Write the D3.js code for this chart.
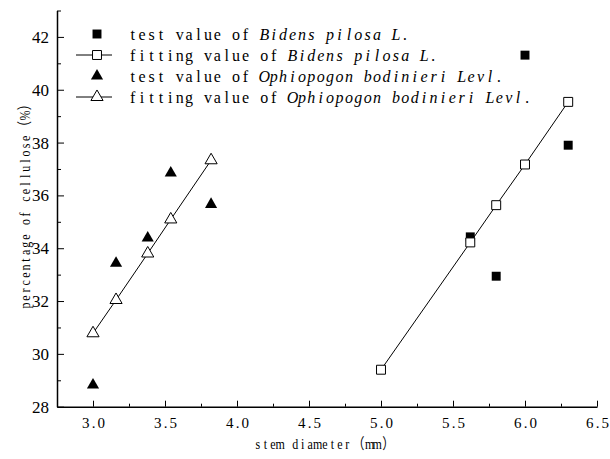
<!DOCTYPE html>
<html>
<head>
<meta charset="utf-8">
<script src="https://cdn.jsdelivr.net/npm/d3@7"></script>
<style>
  body { margin: 0; background: #fff; }
  svg { display: block; background: #fff; }
  .axis text { fill: #000; }
  .axis path, .axis line { stroke: #000; }
</style>
</head>
<body>
<div id="chart"></div>
<script>
// stem diameter values (mm) and cellulose percentage
const bidensTestX = [5.62, 5.8, 6.0, 6.3]
const bidensTestY = [34.43, 32.94, 41.31, 37.9]
const bidensFitX = [5.0, 5.62, 5.8, 6.0, 6.3]
const bidensFitY = [29.4, 34.22, 35.63, 37.17, 39.54]

const ophioX = [3.0, 3.16, 3.38, 3.54, 3.82]
const ophioTestY = [28.82, 33.43, 34.39, 36.85, 35.66]
const ophioFitY = [30.78, 32.04, 33.8, 35.09, 37.33]

const xTicks = [3.0, 3.5, 4.0, 4.5, 5.0, 5.5, 6.0, 6.5]
const xMinor = [3.25, 3.75, 4.25, 4.75, 5.25, 5.75, 6.25]
const yTicks = [28, 30, 32, 34, 36, 38, 40, 42]
const yMinor = [29, 31, 33, 35, 37, 39, 41, 43]

const legendLabels = [
  ['test value of', 'Bidens pilosa L.'],
  ['fitting value of', 'Bidens pilosa L.'],
  ['test value of', 'Ophiopogon bodinieri Levl.'],
  ['fitting value of', 'Ophiopogon bodinieri Levl.']
]

const width = 610
const height = 459
const serif = '"Liberation Serif", "Noto Sans CJK SC", serif'

const svg = d3.select('#chart')
  .append('svg')
  .attr('width', width)
  .attr('height', height)

const x = d3.scaleLinear().domain([2.75, 6.5]).range([57, 597])
const y = d3.scaleLinear().domain([28, 43]).range([406.7, 10.5])

// fixed-cell text, like a half-width CJK font (fullwidth chars take 2 cells)
const cells = c => (c.charCodeAt(0) > 0x2000 ? 2 : 1)
const textWidth = (str, adv) => [...str].reduce((s, c) => s + cells(c) * adv, 0)
const cellPositions = (str, x0, adv, squeeze = 1) => {
  const xs = []
  let pos = x0
  for (const c of str) {
    xs.push((pos + cells(c) * adv / 2) / squeeze)
    pos += cells(c) * adv
  }
  return xs.join(' ')
}

// axes, ticks point inward
const xAxis = svg.append('g')
  .attr('class', 'axis')
  .attr('transform', `translate(0, ${y(28)})`)
  .call(d3.axisBottom(x).tickValues(xTicks).tickSizeInner(-6).tickSizeOuter(0)
    .tickPadding(11).tickFormat(d3.format('.1f')))
xAxis.selectAll('.tick text')
  .style('font-family', serif).style('font-size', '15px')
  .attr('x', d => {
    const s = d3.format('.1f')(d)
    return cellPositions(s, -textWidth(s, 7.8) / 2, 7.8)
  })
xAxis.select('.domain').attr('stroke-width', 1.5)

svg.append('g')
  .attr('class', 'axis')
  .attr('transform', `translate(0, ${y(28)})`)
  .call(d3.axisBottom(x).tickValues(xMinor).tickSizeInner(-3).tickSizeOuter(0).tickFormat(''))
  .select('.domain').remove()

const yAxis = svg.append('g')
  .attr('class', 'axis')
  .attr('transform', `translate(${x(2.75)}, 0)`)
  .call(d3.axisLeft(y).tickValues(yTicks).tickSizeInner(-7).tickSizeOuter(0).tickPadding(8))
yAxis.selectAll('text')
  .style('font-family', serif).style('font-size', '17px')
yAxis.select('.domain').attr('stroke-width', 1.5)

svg.append('g')
  .attr('class', 'axis')
  .attr('transform', `translate(${x(2.75)}, 0)`)
  .call(d3.axisLeft(y).tickValues(yMinor).tickSizeInner(-4).tickSizeOuter(0).tickFormat(''))
  .select('.domain').remove()

// axis titles, glyphs squeezed horizontally to fit their cells
const squeeze = 0.8
const xTitle = 'stem diameter（mm）'
svg.append('text')
  .attr('transform', `translate(0, 449) scale(${squeeze}, 1)`)
  .attr('text-anchor', 'middle')
  .attr('x', cellPositions(xTitle, 325 - textWidth(xTitle, 7.45) / 2, 7.45, squeeze))
  .style('font-family', serif)
  .style('font-size', '15px')
  .text(xTitle)

const yTitle = 'percentage of cellulose（%）'
svg.append('text')
  .attr('transform', `translate(30, 0) rotate(-90) scale(${squeeze}, 1)`)
  .attr('text-anchor', 'middle')
  .attr('x', cellPositions(yTitle, -203 - textWidth(yTitle, 7.6) / 2, 7.6, squeeze))
  .style('font-family', serif)
  .style('font-size', '15px')
  .text(yTitle)

const square = d3.symbol().type(d3.symbolSquare).size(80)
const triangle = d3.symbol().type(d3.symbolTriangle).size(64)
const line = d3.line()

// test values (filled)
svg.append('g').selectAll('path')
  .data(d3.zip(bidensTestX, bidensTestY))
  .join('path')
  .attr('d', square)
  .attr('transform', d => `translate(${x(d[0])}, ${y(d[1])})`)
  .attr('fill', '#000')

svg.append('g').selectAll('path')
  .data(d3.zip(ophioX, ophioTestY))
  .join('path')
  .attr('d', triangle)
  .attr('transform', d => `translate(${x(d[0])}, ${y(d[1])})`)
  .attr('fill', '#000')

// fitting values (line + open markers)
svg.append('path')
  .attr('d', line(d3.zip(bidensFitX, bidensFitY).map(d => [x(d[0]), y(d[1])])))
  .attr('fill', 'none').attr('stroke', '#000').attr('stroke-width', 1)

svg.append('path')
  .attr('d', line(d3.zip(ophioX, ophioFitY).map(d => [x(d[0]), y(d[1])])))
  .attr('fill', 'none').attr('stroke', '#000').attr('stroke-width', 1)

svg.append('g').selectAll('path')
  .data(d3.zip(bidensFitX, bidensFitY))
  .join('path')
  .attr('d', square)
  .attr('transform', d => `translate(${x(d[0])}, ${y(d[1])})`)
  .attr('fill', '#fff').attr('stroke', '#000').attr('stroke-width', 1)

svg.append('g').selectAll('path')
  .data(d3.zip(ophioX, ophioFitY))
  .join('path')
  .attr('d', triangle)
  .attr('transform', d => `translate(${x(d[0])}, ${y(d[1])})`)
  .attr('fill', '#fff').attr('stroke', '#000').attr('stroke-width', 1)

// legend
const legendY = [34, 55, 76, 97]
const symbols = [
  { shape: square, fill: '#000', line: false },
  { shape: square, fill: '#fff', line: true },
  { shape: triangle, fill: '#000', line: false },
  { shape: triangle, fill: '#fff', line: true }
]
const adv = 9.4

const legend = svg.append('g')
legendLabels.forEach((label, i) => {
  const row = legend.append('g').attr('transform', `translate(0, ${legendY[i]})`)
  if (symbols[i].line) {
    row.append('line')
      .attr('x1', 76).attr('x2', 112)
      .attr('stroke', '#000').attr('stroke-width', 1)
  }
  row.append('path')
    .attr('d', symbols[i].shape)
    .attr('transform', 'translate(97, 0)')
    .attr('fill', symbols[i].fill)
    .attr('stroke', symbols[i].line ? '#000' : 'none')
  const t = row.append('text')
    .attr('dy', '0.35em')
    .attr('text-anchor', 'middle')
    .style('font-family', serif)
    .style('font-size', '16px')
  t.append('tspan')
    .attr('x', cellPositions(label[0], 128, adv))
    .text(label[0])
  t.append('tspan')
    .attr('x', cellPositions(label[1], 128 + (label[0].length + 1) * adv, adv))
    .style('font-style', 'italic')
    .text(label[1])
})
</script>
</body>
</html>
